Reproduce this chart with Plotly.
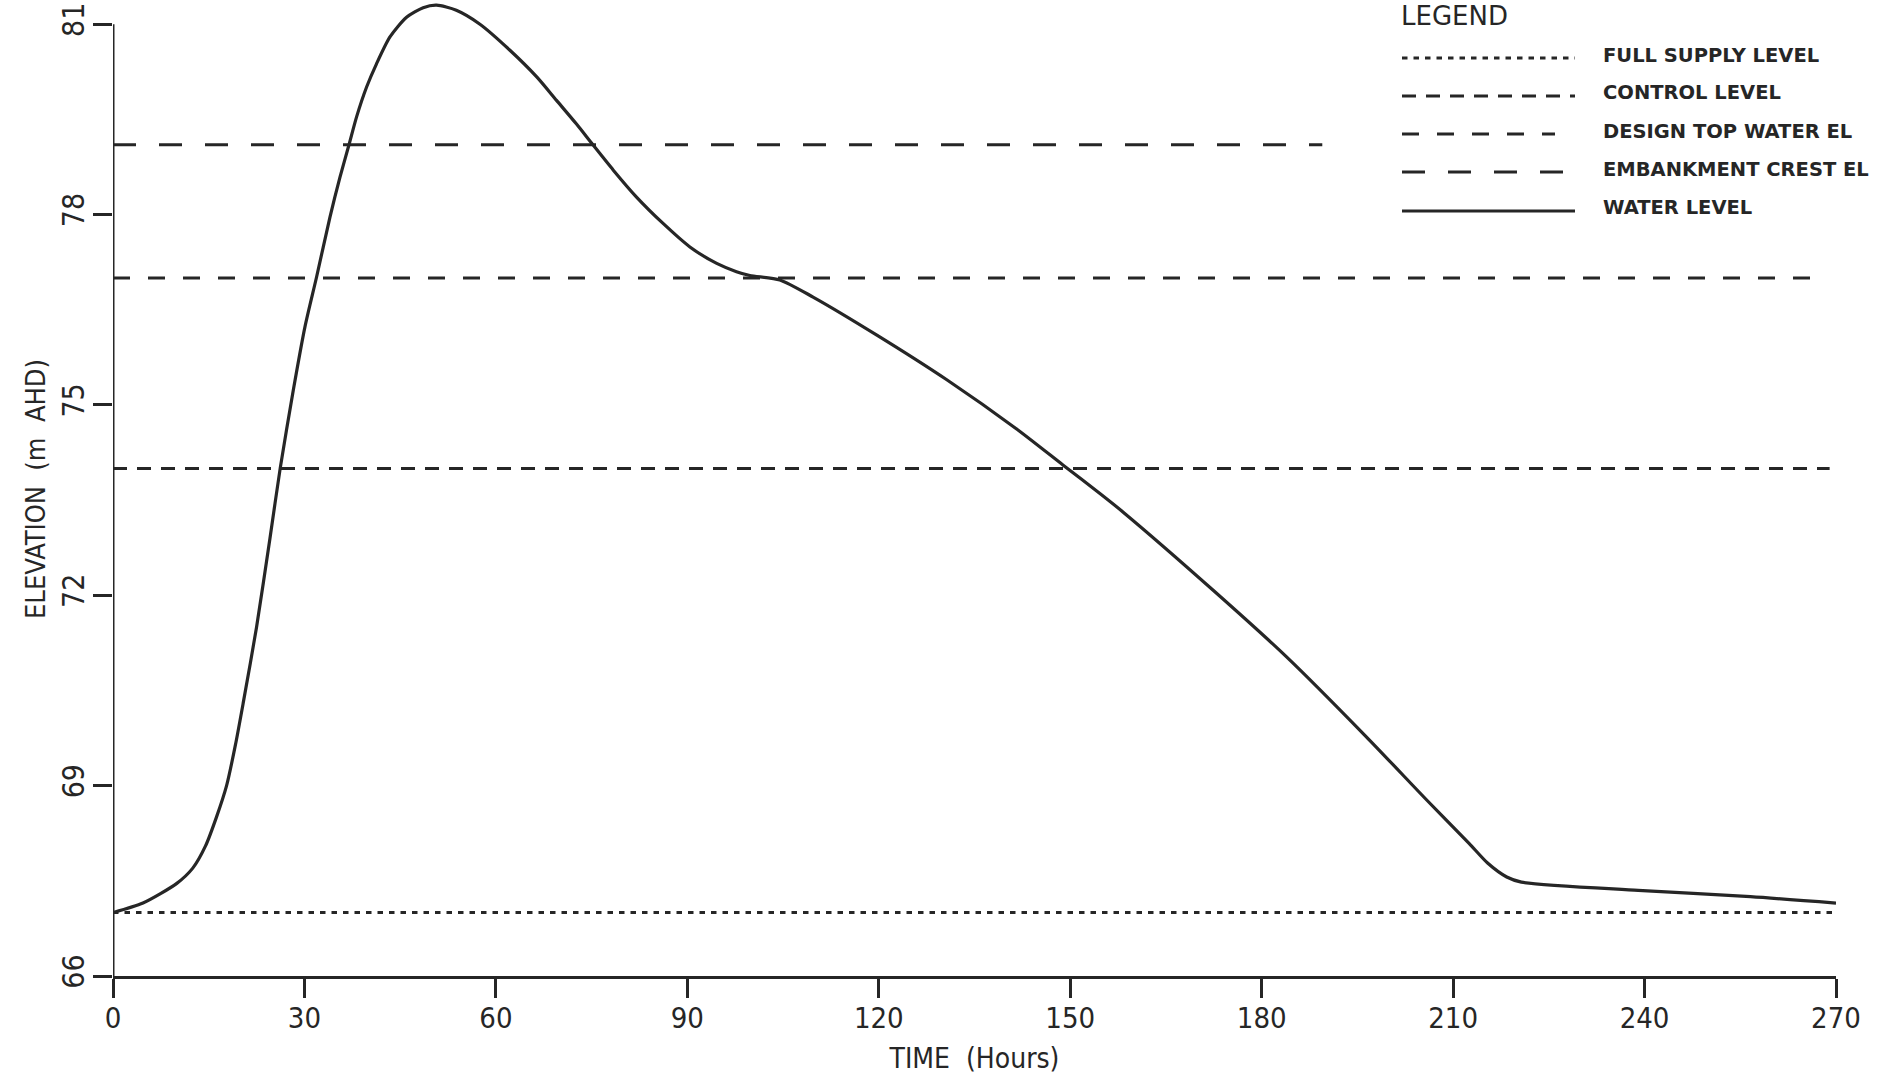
import plotly.graph_objects as go

# ---------------- data ----------------
time_hours = [0, 4.7, 10.0, 12.5, 14.5, 16.2, 17.8, 19.2, 20.4, 22.5, 24.6, 26.2, 28.25,
              30.08, 31.91, 34.0, 35.57, 36.98, 38.17, 39.74, 41.31, 43.4, 46.0, 48.6,
              50.7, 53.8, 57.5, 62.2, 66.4, 69.5, 72.6, 75.2, 78.4, 82.0, 86.2, 90.4,
              94.6, 97.7, 99.8, 104.5, 109.7, 119.7, 130.6, 141.6, 148.9, 154.7, 158.3,
              172.4, 183.9, 196.4, 205.9, 212.5, 215.4, 218.4, 220.7, 239.0, 256.6, 270]
water_level = [67.0, 67.15, 67.46, 67.70, 68.05, 68.50, 69.00, 69.65, 70.30, 71.50, 72.90,
               74.00, 75.23, 76.23, 77.02, 77.96, 78.59, 79.10, 79.54, 80.01, 80.38, 80.80,
               81.11, 81.26, 81.30, 81.22, 81.00, 80.59, 80.17, 79.80, 79.43, 79.10, 78.70,
               78.28, 77.86, 77.49, 77.23, 77.10, 77.04, 76.97, 76.70, 76.10, 75.40, 74.62,
               74.05, 73.60, 73.31, 72.08, 71.03, 69.77, 68.77, 68.09, 67.78, 67.56, 67.48,
               67.35, 67.25, 67.15]

level_names = ["FULL SUPPLY LEVEL", "CONTROL LEVEL", "DESIGN TOP WATER EL", "EMBANKMENT CREST EL"]
level_values = [67.0, 74.0, 77.0, 79.1]
level_x_end = [270, 269, 267.3, 189.5]

x_ticks = [0, 30, 60, 90, 120, 150, 180, 210, 240, 270]
y_ticks = [66, 69, 72, 75, 78, 81]

# ---------------- styles ----------------
INK = "#262626"
FONT = "DejaVu Sans Condensed, Liberation Sans Narrow, Arial Narrow, sans-serif"
level_dash = ["5.5px,6px", "14px,10px", "17px,18px", "23px,23px"]

fig = go.Figure()

for name, val, xe, dash in zip(level_names, level_values, level_x_end, level_dash):
    fig.add_trace(go.Scatter(
        x=[0, xe], y=[val, val], mode="lines", name=name,
        line=dict(color=INK, width=3, dash=dash), hoverinfo="skip"))

fig.add_trace(go.Scatter(
    x=time_hours, y=water_level, mode="lines", name="WATER LEVEL",
    line=dict(color=INK, width=3.2, shape="spline", smoothing=0.7)))

# y axis line (stops at 81)
fig.add_shape(type="line", xref="x", yref="y", x0=0, x1=0, y0=y_ticks[0], y1=y_ticks[-1],
              line=dict(color=INK, width=3))

# ---------------- manual legend (pixel layout -> paper) ----------------
L, R, T, B = 113, 1836, 2, 976
def px(xp):
    return (xp - L) / (R - L)
def py(yp):
    return (B - yp) / (B - T)

fig.add_annotation(x=px(1399), y=py(16), xref="paper", yref="paper", text="LEGEND",
                   showarrow=False, xanchor="left", yanchor="middle",
                   font=dict(family="DejaVu Sans, sans-serif", size=26, color=INK))

legend_labels = level_names + ["WATER LEVEL"]
legend_dash = level_dash + ["solid"]
row_y = [55, 93, 131, 169, 208]
line_end = [1575, 1575, 1555, 1563, 1575]
for lab, dash, ry, le in zip(legend_labels, legend_dash, row_y, line_end):
    fig.add_shape(type="line", xref="paper", yref="paper",
                  x0=px(1402), x1=px(le), y0=py(ry + 3), y1=py(ry + 3),
                  line=dict(color=INK, width=3, dash=dash))
    fig.add_annotation(x=px(1601), y=py(ry), xref="paper", yref="paper", text=lab,
                       showarrow=False, xanchor="left", yanchor="middle",
                       font=dict(family="DejaVu Sans, sans-serif", size=19.5, color=INK,
                                 weight="bold"))

fig.update_layout(
    width=1889, height=1076,
    margin=dict(l=L, r=1889 - R, t=T, b=1076 - B),
    paper_bgcolor="white", plot_bgcolor="white",
    showlegend=False,
    font=dict(family=FONT, color=INK),
)

fig.update_xaxes(
    range=[0, 270], autorange=False,
    tickvals=x_ticks, ticktext=[str(t) for t in x_ticks],
    ticks="outside", ticklen=19, tickwidth=3, tickcolor=INK,
    showline=True, linewidth=3, linecolor=INK,
    showgrid=False, zeroline=False,
    tickfont=dict(size=29, family=FONT, color=INK),
    ticklabelstandoff=-5,
    title=dict(text="TIME\u00a0 (Hours)", font=dict(size=28, family=FONT, color=INK), standoff=15),
)
fig.update_yaxes(
    range=[66, 81.35], autorange=False,
    tickvals=y_ticks, ticktext=[str(t) for t in y_ticks],
    ticks="outside", ticklen=19, tickwidth=3, tickcolor=INK, tickangle=-90,
    showline=False, showgrid=False, zeroline=False,
    tickfont=dict(size=30, family=FONT, color=INK),
    ticklabelstandoff=-3,
    title=dict(text="ELEVATION\u00a0 (m\u00a0 AHD)", font=dict(size=27, family=FONT, color=INK), standoff=2),
)

fig.write_html("out.html", config={"displayModeBar": False},
               post_script="document.body.style.margin='0px';document.body.style.overflow='hidden';")
